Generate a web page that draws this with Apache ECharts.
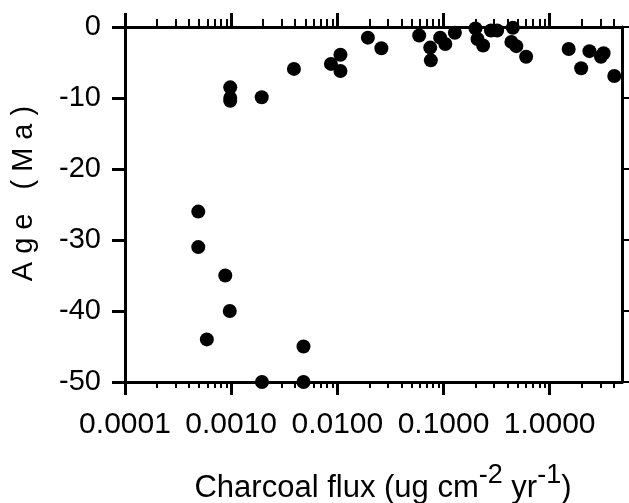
<!DOCTYPE html>
<html>
<head>
<meta charset="utf-8">
<script src="https://cdn.jsdelivr.net/npm/echarts@6/dist/echarts.min.js"></script>
<style>
html,body{margin:0;padding:0;background:#fff;}
#chart{width:629px;height:503px;}
</style>
</head>
<body>
<div id="chart"></div>
<script>
// Charcoal flux (x, log scale) and age (y, Ma)
var fluxValues = [0.00049, 0.00049, 0.00088, 0.00097, 0.00059, 0.0048, 0.00195, 0.0048,
  0.00098, 0.00098, 0.00098, 0.00194, 0.0039, 0.0087, 0.0107, 0.0107, 0.0194, 0.026,
  0.059, 0.075, 0.076, 0.093, 0.104, 0.128, 0.2, 0.209, 0.236, 0.28, 0.32,
  0.45, 0.436, 0.485, 0.6, 1.51, 1.98, 2.37, 3.04, 3.22, 4.06];
var ageValues = [-26, -31, -35, -40, -44, -45, -50, -50,
  -8.5, -10, -10.4, -9.9, -5.9, -5.2, -3.9, -6.2, -1.5, -3.0,
  -1.2, -2.9, -4.7, -1.5, -2.4, -0.8, -0.2, -1.7, -2.6, -0.5, -0.5,
  -0.1, -2.1, -2.7, -4.2, -3.1, -5.8, -3.4, -4.2, -3.7, -6.9];
var majorTicks = [0.0001, 0.001, 0.01, 0.1, 1];
var tickLabels = ['0.0001', '0.0010', '0.0100', '0.1000', '1.0000'];
var minorTicks = [0.0002, 0.0003, 0.0004, 0.0005, 0.0006, 0.0007, 0.0008, 0.0009,
  0.002, 0.003, 0.004, 0.005, 0.006, 0.007, 0.008, 0.009,
  0.02, 0.03, 0.04, 0.05, 0.06, 0.07, 0.08, 0.09,
  0.2, 0.3, 0.4, 0.5, 0.6, 0.7, 0.8, 0.9,
  2, 3, 4];
var xMin = 0.0001, xMax = 4.8;
var yMin = -50, yMax = 0, yInterval = 10;

var FONT = '"Liberation Sans", Arial, sans-serif';
var BLACK = '#000';

var points = fluxValues.map(function (v, i) { return [v, ageValues[i]]; });

function logAxis(pos, ticks, len, showLine, showLabel) {
  return {
    type: 'log', logBase: 10, position: pos, min: xMin, max: xMax,
    axisLine: { show: showLine, onZero: false, lineStyle: { color: BLACK, width: 3 } },
    axisTick: { show: true, inside: false, length: len, customValues: ticks,
      lineStyle: { color: BLACK, width: len > 10 ? 3 : 2 } },
    axisLabel: { show: showLabel, customValues: majorTicks, margin: 28,
      fontFamily: FONT, fontSize: 30, color: BLACK,
      formatter: function (v) {
        var idx = Math.round(Math.log10(v)) + 4;
        return tickLabels[idx] !== undefined ? tickLabels[idx] : '';
      } },
    splitLine: { show: false }, minorTick: { show: false }, minorSplitLine: { show: false }
  };
}

var xAxes = [
  logAxis('bottom', majorTicks, 13, true, true),
  logAxis('bottom', minorTicks, 6, false, false),
  logAxis('top', majorTicks, 14, true, false),
  logAxis('top', minorTicks, 8, false, false)
];
xAxes[0].name = '{n|Charcoal flux (ug cm}{s|-2}{n| yr}{s|-1}{n|)}';
xAxes[0].nameLocation = 'middle';
xAxes[0].nameGap = 80;
xAxes[0].nameTextStyle = {
  fontFamily: FONT, fontSize: 31, color: BLACK, padding: [0, 0, 0, 19],
  rich: {
    n: { fontFamily: FONT, fontSize: 31, color: BLACK, verticalAlign: 'bottom' },
    s: { fontFamily: FONT, fontSize: 27, color: BLACK, verticalAlign: 'bottom', padding: [0, 0, 15, 0] }
  }
};

var titleChars = 'Age (Ma)'.split('');
var yName = titleChars.map(function (c) { return '{c|' + c + '}'; }).join('');

var option = {
  backgroundColor: '#fff',
  animation: false,
  grid: { left: 125, right: 7, top: 27, bottom: 121, containLabel: false, outerBoundsMode: 'none' },
  xAxis: xAxes,
  yAxis: [
    {
      type: 'value', position: 'left', min: yMin, max: yMax, interval: yInterval,
      name: yName, nameLocation: 'middle', nameGap: 87, nameRotate: 90,
      nameTextStyle: {
        fontFamily: FONT, fontSize: 29, color: BLACK, padding: [0, 0, 0, 22],
        rich: { c: { fontFamily: FONT, fontSize: 29, color: BLACK, padding: [0, 4, 0, 4] } }
      },
      axisLine: { show: true, onZero: false, lineStyle: { color: BLACK, width: 3 } },
      axisTick: { show: true, inside: false, length: 13, lineStyle: { color: BLACK, width: 3 } },
      axisLabel: { margin: 24, fontFamily: FONT, fontSize: 29, color: BLACK },
      splitLine: { show: false }
    },
    {
      type: 'value', position: 'right', min: yMin, max: yMax, interval: yInterval,
      axisLine: { show: true, onZero: false, lineStyle: { color: BLACK, width: 3 } },
      axisTick: { show: true, inside: false, length: 7, lineStyle: { color: BLACK, width: 2 } },
      axisLabel: { show: false },
      splitLine: { show: false }
    }
  ],
  series: [{
    type: 'scatter', xAxisIndex: 0, yAxisIndex: 0,
    data: points, symbol: 'circle', symbolSize: 14, clip: false,
    itemStyle: { color: BLACK, opacity: 1 }, z: 5
  }]
};

var chart = echarts.init(document.getElementById('chart'), null, { renderer: 'canvas' });
chart.setOption(option);
</script>
</body>
</html>
